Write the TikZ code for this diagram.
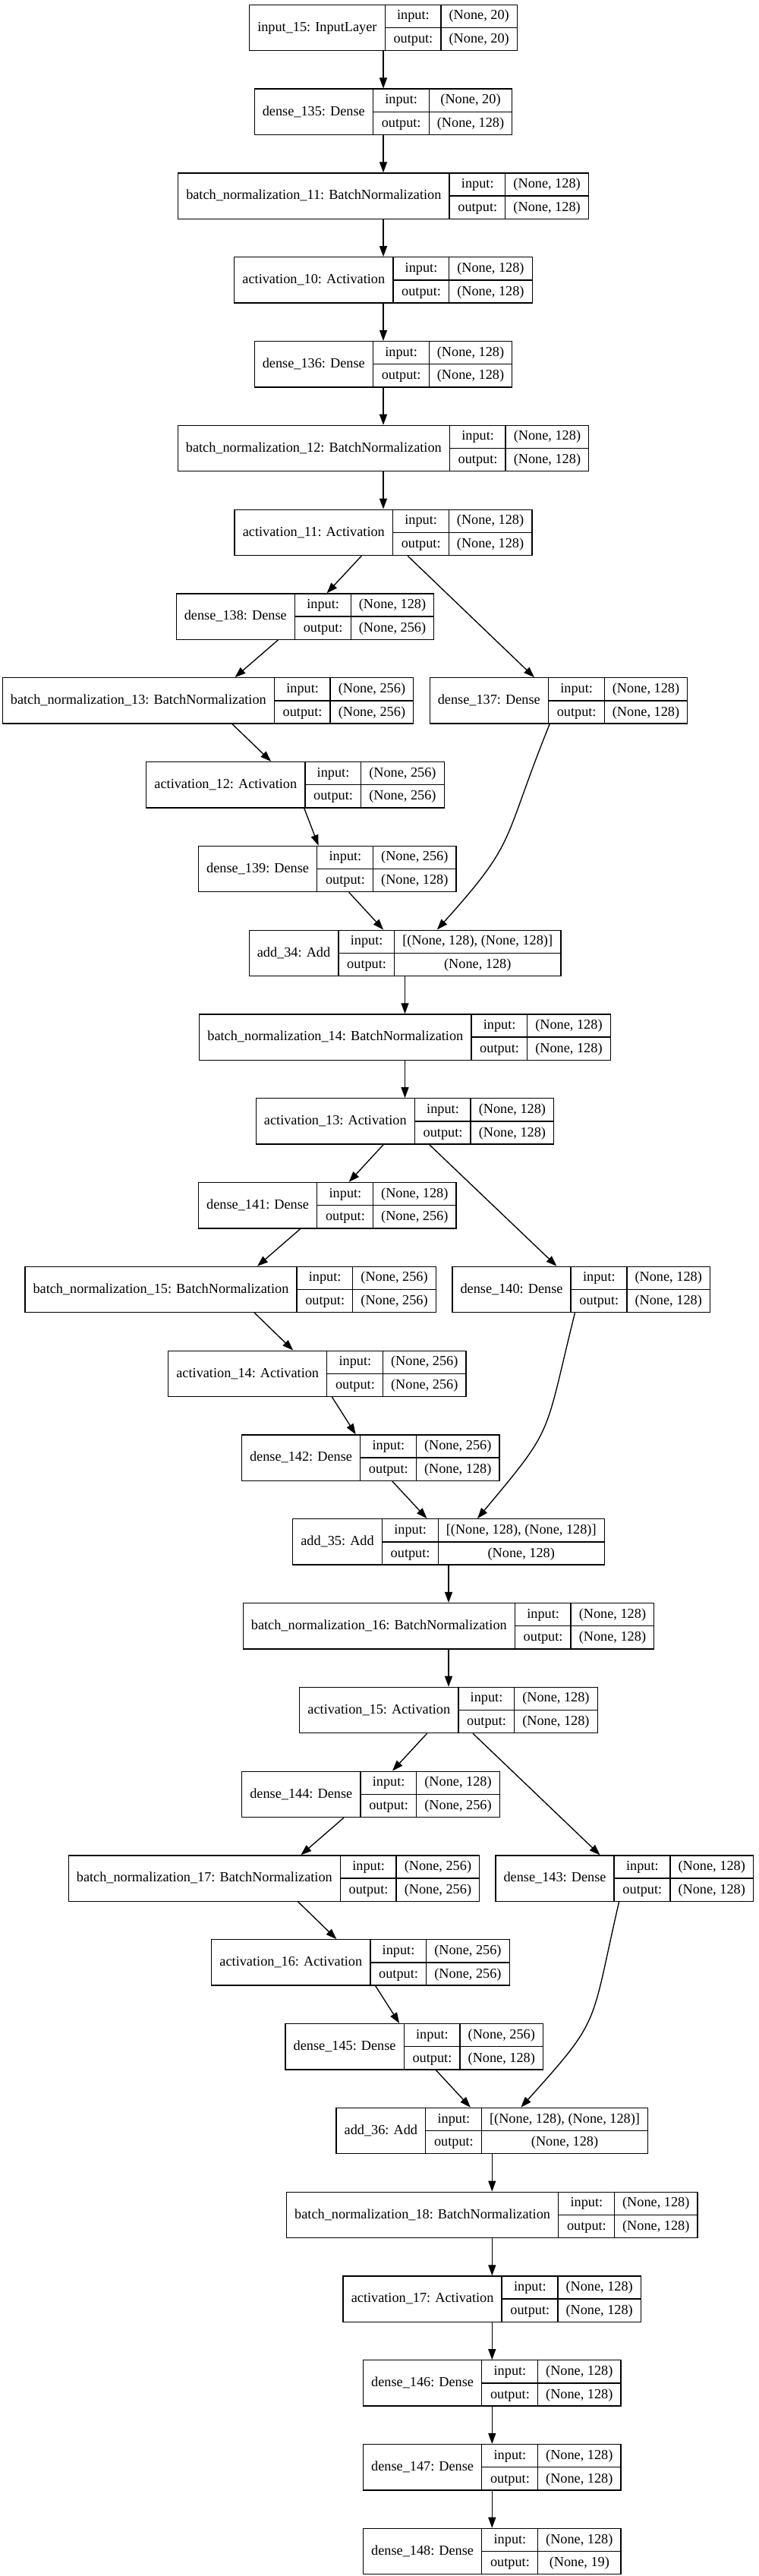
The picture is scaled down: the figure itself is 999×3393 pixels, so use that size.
\documentclass[tikz,border=0pt]{standalone}
\usepackage{fontspec}
\setmainfont{Liberation Serif}
\usepackage{tikz}
\usetikzlibrary{arrows.meta}
\setlength{\tabcolsep}{8pt}
\setlength{\arrayrulewidth}{1pt}
\newcommand{\cellstrut}{\rule[-7.4pt]{0pt}{22.1pt}}
\newcommand{\kerasbox}[3]{%
  \begin{tabular}{c|@{}c@{}}
    #1 &
    \begin{tabular}{c|c}
      \cellstrut input: & #2 \\ \hline
      \cellstrut output: & #3
    \end{tabular}
  \end{tabular}}

\begin{document}
\begin{tikzpicture}[x=0.75pt, y=0.75pt, >={Triangle[length=10.5pt,width=7.5pt]}, line width=1pt]
        \tikzstyle{every node} = [rectangle, draw, line width=1pt, inner sep=0pt,
          font=\fontsize{13.7}{16}\selectfont]
        \useasboundingbox (0, 0) rectangle (999, -3393);
        \node (in1) at (505, -36.5) {\kerasbox{input\_15: InputLayer}{(None, 20)}{(None, 20)}};
        \node (d135) at (505, -147.3) {\kerasbox{dense\_135: Dense}{(None, 20)}{(None, 128)}};
        \node (bn11) at (505, -258.1) {\kerasbox{batch\_normalization\_11: BatchNormalization}{(None, 128)}{(None, 128)}};
        \node (act10) at (505, -368.9) {\kerasbox{activation\_10: Activation}{(None, 128)}{(None, 128)}};
        \node (d136) at (505, -479.7) {\kerasbox{dense\_136: Dense}{(None, 128)}{(None, 128)}};
        \node (bn12) at (505, -590.5) {\kerasbox{batch\_normalization\_12: BatchNormalization}{(None, 128)}{(None, 128)}};
        \node (act11) at (505, -701.3) {\kerasbox{activation\_11: Activation}{(None, 128)}{(None, 128)}};
        \node (d138) at (402, -812.1) {\kerasbox{dense\_138: Dense}{(None, 128)}{(None, 256)}};
        \node (bn13) at (274, -922.9) {\kerasbox{batch\_normalization\_13: BatchNormalization}{(None, 256)}{(None, 256)}};
        \node (d137) at (736, -922.9) {\kerasbox{dense\_137: Dense}{(None, 128)}{(None, 128)}};
        \node (act12) at (389, -1033.7) {\kerasbox{activation\_12: Activation}{(None, 256)}{(None, 256)}};
        \node (d139) at (431.3, -1144.5) {\kerasbox{dense\_139: Dense}{(None, 256)}{(None, 128)}};
        \node (add34) at (533.5, -1255.3) {\kerasbox{add\_34: Add}{[(None, 128), (None, 128)]}{(None, 128)}};
        \node (bn14) at (533.5, -1366.1) {\kerasbox{batch\_normalization\_14: BatchNormalization}{(None, 128)}{(None, 128)}};
        \node (act13) at (533.5, -1476.9) {\kerasbox{activation\_13: Activation}{(None, 128)}{(None, 128)}};
        \node (d141) at (431.3, -1587.7) {\kerasbox{dense\_141: Dense}{(None, 128)}{(None, 256)}};
        \node (bn15) at (303.6, -1698.5) {\kerasbox{batch\_normalization\_15: BatchNormalization}{(None, 256)}{(None, 256)}};
        \node (d140) at (765.7, -1698.5) {\kerasbox{dense\_140: Dense}{(None, 128)}{(None, 128)}};
        \node (act14) at (417.9, -1809.3) {\kerasbox{activation\_14: Activation}{(None, 256)}{(None, 256)}};
        \node (d142) at (488.2, -1920.1) {\kerasbox{dense\_142: Dense}{(None, 256)}{(None, 128)}};
        \node (add35) at (591, -2030.9) {\kerasbox{add\_35: Add}{[(None, 128), (None, 128)]}{(None, 128)}};
        \node (bn16) at (591, -2141.7) {\kerasbox{batch\_normalization\_16: BatchNormalization}{(None, 128)}{(None, 128)}};
        \node (act15) at (591, -2252.5) {\kerasbox{activation\_15: Activation}{(None, 128)}{(None, 128)}};
        \node (d144) at (488.5, -2363.3) {\kerasbox{dense\_144: Dense}{(None, 128)}{(None, 256)}};
        \node (bn17) at (361, -2474.1) {\kerasbox{batch\_normalization\_17: BatchNormalization}{(None, 256)}{(None, 256)}};
        \node (d143) at (822.7, -2474.1) {\kerasbox{dense\_143: Dense}{(None, 128)}{(None, 128)}};
        \node (act16) at (475, -2584.9) {\kerasbox{activation\_16: Activation}{(None, 256)}{(None, 256)}};
        \node (d145) at (545.8, -2695.7) {\kerasbox{dense\_145: Dense}{(None, 256)}{(None, 128)}};
        \node (add36) at (648.3, -2806.5) {\kerasbox{add\_36: Add}{[(None, 128), (None, 128)]}{(None, 128)}};
        \node (bn18) at (648.3, -2917.3) {\kerasbox{batch\_normalization\_18: BatchNormalization}{(None, 128)}{(None, 128)}};
        \node (act17) at (648.3, -3028.1) {\kerasbox{activation\_17: Activation}{(None, 128)}{(None, 128)}};
        \node (d146) at (648.3, -3138.9) {\kerasbox{dense\_146: Dense}{(None, 128)}{(None, 128)}};
        \node (d147) at (648.3, -3249.7) {\kerasbox{dense\_147: Dense}{(None, 128)}{(None, 128)}};
        \node (d148) at (648.3, -3360.5) {\kerasbox{dense\_148: Dense}{(None, 128)}{(None, 19)}};
        \draw [->] (in1) -- (d135);
        \draw [->] (d135) -- (bn11);
        \draw [->] (bn11) -- (act10);
        \draw [->] (act10) -- (d136);
        \draw [->] (d136) -- (bn12);
        \draw [->] (bn12) -- (act11);
        \draw [->] (act11) -- (d138);
        \draw [->] (act11) -- (d137);
        \draw [->] (d138) -- (bn13);
        \draw [->] (bn13) -- (act12);
        \draw [->] (act12) -- (d139);
        \draw [->] (d139) -- (add34);
        \draw [->] (d137.-111) .. controls +(-112:170) and +(48:160) .. (add34.36);
        \draw [->] (add34) -- (bn14);
        \draw [->] (bn14) -- (act13);
        \draw [->] (act13) -- (d141);
        \draw [->] (act13) -- (d140);
        \draw [->] (d141) -- (bn15);
        \draw [->] (bn15) -- (act14);
        \draw [->] (act14) -- (d142);
        \draw [->] (d142) -- (add35);
        \draw [->] (d140.-105) .. controls +(-104:170) and +(50:160) .. (add35.39);
        \draw [->] (add35) -- (bn16);
        \draw [->] (bn16) -- (act15);
        \draw [->] (act15) -- (d144);
        \draw [->] (act15) -- (d143);
        \draw [->] (d144) -- (bn17);
        \draw [->] (bn17) -- (act16);
        \draw [->] (act16) -- (d145);
        \draw [->] (d145) -- (add36);
        \draw [->] (d143.-103) .. controls +(-103:170) and +(48:160) .. (add36.39);
        \draw [->] (add36) -- (bn18);
        \draw [->] (bn18) -- (act17);
        \draw [->] (act17) -- (d146);
        \draw [->] (d146) -- (d147);
        \draw [->] (d147) -- (d148);
      \end{tikzpicture}
\end{document}
